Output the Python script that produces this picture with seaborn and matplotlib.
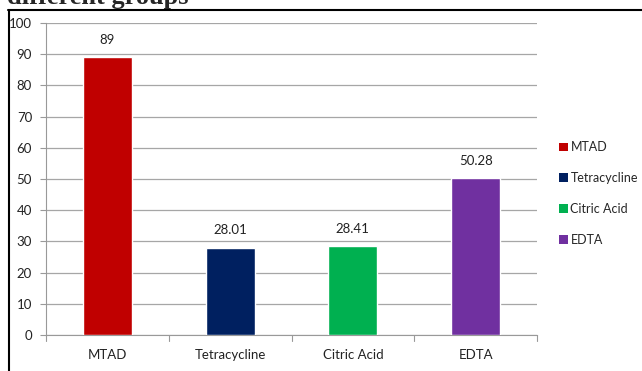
import matplotlib
matplotlib.use("Agg")
import matplotlib.pyplot as plt
import seaborn as sns
import pandas as pd
from matplotlib.patches import Patch
from matplotlib.lines import Line2D

categories = ["MTAD", "Tetracycline", "Citric Acid", "EDTA"]
values = [89, 28.01, 28.41, 50.28]
value_labels = ["89", "28.01", "28.41", "50.28"]
colors = ["#C00000", "#002060", "#00B050", "#7030A0"]
yticks = [0, 10, 20, 30, 40, 50, 60, 70, 80, 90, 100]

sns.set_theme(style="white")
plt.rcParams["font.family"] = ["Lato", "DejaVu Sans"]

W, H = 642, 371
fig = plt.figure(figsize=(W / 100, H / 100), dpi=100)
ax = fig.add_axes([46 / W, (H - 335) / H, (537 - 46) / W, (335 - 23) / H])

df = pd.DataFrame({"cat": categories, "val": values})
sns.barplot(data=df, x="cat", y="val", hue="cat", palette=colors, order=categories,
            hue_order=categories, width=0.4, saturation=1, legend=False, ax=ax, zorder=3)

ax.set_ylim(0, 100)
ax.set_xlim(-0.5, 3.5)
ax.set_yticks(yticks)
ax.set_xticks([0, 1, 2, 3])
ax.set_xticklabels(categories, fontsize=9.5, color="#222222")
ax.tick_params(axis="y", labelsize=9.5, colors="#222222", length=4, width=0.8, color="#999999", pad=6, left=True)
ax.tick_params(axis="x", length=0, pad=10)
for t in [-0.5, 0.5, 1.5, 2.5, 3.5]:
    ax.plot([t, t], [0, -0.018], transform=ax.get_xaxis_transform(), color="#999999", lw=0.8, clip_on=False)
ax.set_xlabel("")
ax.set_ylabel("")
ax.yaxis.grid(True, color="#a6a6a6", lw=0.9)
ax.set_axisbelow(True)
for s in ["top", "right"]:
    ax.spines[s].set_visible(False)
ax.spines["left"].set_color("#999999")
ax.spines["bottom"].set_color("#999999")
ax.spines["left"].set_linewidth(0.8)
ax.spines["bottom"].set_linewidth(0.8)

for i, (v, lab) in enumerate(zip(values, value_labels)):
    ax.annotate(lab, (i, v), xytext=(0, 8), textcoords="offset points",
                ha="center", va="bottom", fontsize=9.5, color="#222222")

handles = [Patch(facecolor=c, edgecolor="none") for c in colors]
fig.legend(handles, categories, loc="upper left", bbox_to_anchor=(553 / W, (H - 135) / H),
           frameon=False, fontsize=9, handlelength=0.7, handleheight=0.7, handletextpad=0.2,
           labelspacing=1.5, borderpad=0)

# frame lines
fig.add_artist(Line2D([8.5 / W, 8.5 / W], [0, (H - 9.5) / H], color="black", lw=1.5, transform=fig.transFigure))
fig.add_artist(Line2D([8 / W, 1], [(H - 9.5) / H, (H - 9.5) / H], color="black", lw=1.5, transform=fig.transFigure))

fig.text(7 / W, (H - 4) / H, "different groups", fontsize=19, fontweight="bold",
         family=["Liberation Serif", "DejaVu Serif"], va="baseline", ha="left")

fig.savefig("out.png", dpi=100)
